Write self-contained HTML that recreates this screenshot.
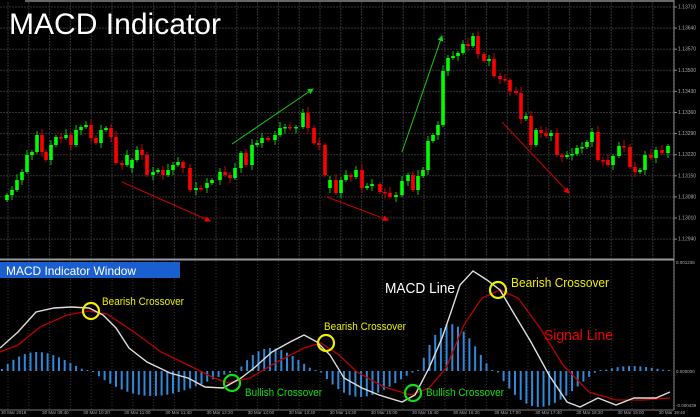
<!DOCTYPE html>
<html><head><meta charset="utf-8"><style>
html,body{margin:0;padding:0;background:#000;}
svg{display:block;font-family:"Liberation Sans",sans-serif;}
</style></head><body>
<svg id="s" width="700" height="417" viewBox="0 0 700 417" xmlns="http://www.w3.org/2000/svg">
<rect width="700" height="417" fill="#000"/>
<g id="grid"></g>
<g id="candles"></g>
<g id="hist"></g>
<line x1="25" y1="1" x2="674" y2="1" stroke="#888" stroke-width="1.5"/>
<line x1="674" y1="0" x2="674" y2="410" stroke="#888" stroke-width="1"/>
<line x1="0" y1="259.5" x2="674" y2="259.5" stroke="#999" stroke-width="2"/>
<line x1="0" y1="410" x2="674" y2="410" stroke="#777" stroke-width="1"/>
<text x="9" y="34" font-size="30" fill="#fff" textLength="212" lengthAdjust="spacingAndGlyphs">MACD Indicator</text>
<defs>
<marker id="ar" markerWidth="6" markerHeight="6" refX="5" refY="3" orient="auto"><path d="M0,0 L6,3 L0,6z" fill="#e00"/></marker>
<marker id="ag" markerWidth="6" markerHeight="6" refX="5" refY="3" orient="auto"><path d="M0,0 L6,3 L0,6z" fill="#1c1"/></marker>
</defs>
<g stroke-width="1">
<line x1="122" y1="182" x2="210" y2="221" stroke="#c00" marker-end="url(#ar)"/>
<line x1="232" y1="144" x2="313" y2="89" stroke="#1c1" marker-end="url(#ag)"/>
<line x1="327" y1="197" x2="388" y2="220" stroke="#c00" marker-end="url(#ar)"/>
<line x1="402" y1="152" x2="442" y2="36" stroke="#1c1" marker-end="url(#ag)"/>
<line x1="502" y1="122" x2="569" y2="193" stroke="#c00" marker-end="url(#ar)"/>
</g>
<g font-size="5" fill="#aaa" id="plabels"></g>
<rect x="0" y="262" width="180" height="16" fill="#1a5fd0"/>
<text x="6" y="275" font-size="12" fill="#fff" textLength="130" lengthAdjust="spacingAndGlyphs">MACD Indicator Window</text>
<polyline fill="none" stroke="#b00" stroke-width="1.3" points="0,352 18,345 40,327 67,315 89,311 107,314 134,332 161,352 188,365 214,378 228,383 250,378 277,362 304,348 321,343 339,355 357,372 384,387 411,395 429,388 446,368 464,325 482,298 500,290 518,298 540,328 563,365 589,392 616,400 643,400 670,398"/>
<polyline fill="none" stroke="#ddd" stroke-width="1.4" points="0,348 18,332 36,312 54,308 71,307 89,308 103,315 116,328 129,348 147,362 170,373 188,378 205,387 223,388 241,378 254,368 272,352 290,342 304,335 317,342 330,355 344,378 362,388 379,395 402,402 415,395 429,368 442,338 451,312 460,285 473,271 487,280 500,290 513,312 531,342 549,375 567,402 580,407 598,398 616,405 634,398 656,398 670,392"/>
<g fill="none" stroke-width="2.2">
<circle cx="91" cy="311" r="8" stroke="#ee0"/>
<circle cx="326" cy="343" r="8" stroke="#ee0"/>
<circle cx="498" cy="290" r="8" stroke="#ee0"/>
<circle cx="232" cy="383" r="8" stroke="#1d1"/>
<circle cx="413" cy="393" r="8" stroke="#1d1"/>
</g>
<g font-size="11">
<text x="102" y="305" fill="#ee0" textLength="82" lengthAdjust="spacingAndGlyphs">Bearish Crossover</text>
<text x="324" y="330" fill="#ee0" textLength="82" lengthAdjust="spacingAndGlyphs">Bearish Crossover</text>
<text x="511" y="287" fill="#ee0" font-size="13" textLength="98" lengthAdjust="spacingAndGlyphs">Bearish Crossover</text>
<text x="245" y="396" fill="#1d1" textLength="77" lengthAdjust="spacingAndGlyphs">Bullish Crossover</text>
<text x="426" y="396" fill="#1d1" textLength="78" lengthAdjust="spacingAndGlyphs">Bullish Crossover</text>
<text x="385" y="293" fill="#fff" font-size="15" textLength="70" lengthAdjust="spacingAndGlyphs">MACD Line</text>
<text x="544" y="340" fill="#e00" font-size="15" textLength="69" lengthAdjust="spacingAndGlyphs">Signal Line</text>
</g>
<g font-size="4.5" fill="#aaa">
<text x="676" y="264">0.001236</text>
<text x="676" y="373">0.000000</text>
<text x="676" y="407">-0.000439</text>
</g>
<g id="dates" font-size="4.5" fill="#aaa"></g>
</svg>
<script>
(function(){
var NS="http://www.w3.org/2000/svg";
function el(p,t,a){var e=document.createElementNS(NS,t);for(var k in a)e.setAttribute(k,a[k]);p.appendChild(e);return e;}
var g=document.getElementById('grid');
for(var x=8;x<674;x+=20.8){el(g,'line',{x1:x,y1:2,x2:x,y2:258,stroke:'#333','stroke-dasharray':'2,1'});el(g,'line',{x1:x,y1:261,x2:x,y2:409,stroke:'#333','stroke-dasharray':'1,2'});}
var pl=document.getElementById('plabels');
var pv=["1.13710","1.13640","1.13570","1.13500","1.13430","1.13360","1.13290","1.13220","1.13150","1.13080","1.13010","1.12940"];
for(var i=0;i<12;i++){var y=7+i*21.1;el(g,'line',{x1:0,y1:y,x2:674,y2:y,stroke:'#333','stroke-dasharray':'2,1'});el(g,'line',{x1:674,y1:y,x2:677,y2:y,stroke:'#888'});var t=el(pl,'text',{x:678,y:y+1.5});t.textContent=pv[i];}
var d=[[7,195],[12,190],[17,180],[22,172],[27,155],[32,152],[37,135],[42,152],[46,160],[51,145],[56,137],[61,138],[66,135],[71,145],[76,130],[81,127],[86,125],[91,138],[96,143],[101,130],[106,128],[111,137],[116,163],[122,165],[127,155],[132,160],[137,150],[142,155],[147,175],[153,172],[158,170],[163,175],[168,170],[173,165],[178,162],[183,168],[190,190],[196,188],[201,188],[207,183],[212,180],[220,172],[225,175],[230,178],[235,168],[241,153],[246,165],[252,145],[257,143],[262,138],[268,140],[275,135],[280,128],[285,127],[290,128],[296,127],[303,113],[308,128],[314,143],[319,145],[325,175],[330,180],[336,193],[341,180],[346,175],[351,177],[356,170],[362,188],[367,186],[372,184],[380,192],[385,193],[390,197],[396,195],[402,181],[408,175],[413,190],[418,176],[423,170],[428,141],[433,135],[438,125],[443,71],[448,58],[453,56],[458,53],[463,44],[468,46],[473,36],[478,54],[484,61],[489,59],[494,76],[500,79],[505,80],[510,91],[516,93],[521,119],[526,116],[531,145],[536,130],[541,133],[546,136],[551,133],[557,155],[562,157],[567,155],[572,154],[577,148],[582,147],[587,142],[592,132],[598,160],[603,160],[608,165],[613,156],[619,146],[624,147],[630,167],[635,172],[640,170],[645,155],[651,158],[656,150],[662,153],[668,146]];
var cg=document.getElementById('candles');var prev=200;
for(var i=0;i<d.length;i++){var x=d[i][0],c=d[i][1],o=prev;if(i==25||i==61)o=c+8;var up=c<o;var col=up?'#0f0':'#f00';var tp=Math.min(o,c),bt=Math.max(o,c);if(bt-tp<1.5)bt=tp+1.5;var hi=tp-2-(i*7%5),lo=bt+2+(i*3%6);
el(cg,'line',{x1:x,y1:hi,x2:x,y2:lo,stroke:up?'#0c0':'#c00','stroke-width':1});el(cg,'rect',{x:x-1.8,y:tp,width:3.6,height:bt-tp,fill:col});prev=c;}
var segs=[[0,88,19],[92,236,-25],[238,316,23],[320,416,-26],[419,493,47],[497,598,-36],[602,672,5]];
var hg=document.getElementById('hist');
for(var x=2;x<672;x+=5.7){var v=0;for(var s=0;s<segs.length;s++){var a=segs[s];if(x>=a[0]&&x<=a[1]){var t=(x-a[0])/(a[1]-a[0]);var sh=Math.pow(Math.sin(Math.PI*Math.pow(t,0.8)),1.2);v=a[2]*sh;}}
if(Math.abs(v)<1)v=v<0?-1:1;var y0=371;el(hg,'rect',{x:x-1,y:v>0?y0-v:y0,width:2,height:Math.abs(v),fill:'#2f88d8'});}
var dg=document.getElementById('dates');
var lb=["30 Mar 2016","30 Mar 09:40","30 Mar 10:20","30 Mar 11:00","30 Mar 11:40","30 Mar 12:20","30 Mar 13:00","30 Mar 13:40","30 Mar 14:20","30 Mar 15:00","30 Mar 15:40","30 Mar 16:20","30 Mar 17:00","30 Mar 17:40","30 Mar 18:20","30 Mar 19:00","30 Mar 19:40"];
for(var i=0;i<lb.length;i++){var x=1+i*41.1;var t=el(dg,'text',{x:x,y:414});t.textContent=lb[i];}
})();
</script>
</body></html>
